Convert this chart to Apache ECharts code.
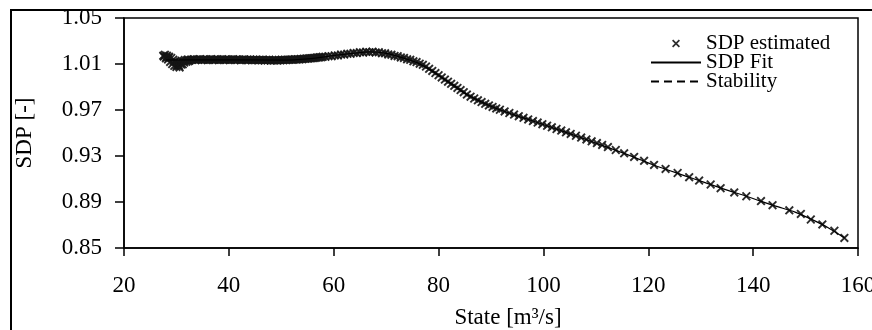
<!DOCTYPE html>
<html>
<head>
<meta charset="utf-8">
<script src="https://cdn.jsdelivr.net/npm/echarts@6/dist/echarts.min.js"></script>
<style>html,body{margin:0;padding:0;background:#fff;}#c{width:872px;height:330px;}</style>
</head>
<body>
<div id="c"></div>
<script>
// SDP estimated (scatter) — state [m3/s]
var estState = [
  27.5,27.6,27.8,28.0,28.1,28.2,28.4,28.5,28.6,28.8,29.0,29.2,29.4,29.5,29.6,29.8,30.0,30.1,30.2,30.4,30.5,30.6,30.8,30.9,31.0,31.2,31.4,31.5,31.6,31.9,32.0,32.2,32.3,32.5,32.8,
  33.0,33.3,33.6,33.9,34.2,34.5,34.8,35.1,35.4,35.7,36.0,36.3,36.6,36.9,37.2,37.5,37.8,38.1,38.4,38.7,39.0,39.3,39.6,39.9,40.2,40.5,40.8,41.1,41.4,41.7,
  42.0,42.3,42.6,42.9,43.2,43.5,43.8,44.1,44.4,44.7,45.0,45.3,45.6,45.9,46.2,46.5,46.8,47.1,47.4,47.7,48.0,48.3,48.6,48.9,49.2,49.5,49.8,
  50.1,50.4,50.7,51.0,51.3,51.6,51.9,52.2,52.5,52.8,53.1,53.4,53.7,54.0,54.3,54.6,54.9,55.2,55.5,55.8,56.1,56.4,56.7,57.0,57.3,57.6,57.9,
  58.4,59.0,59.6,60.2,60.8,61.4,62.0,62.6,63.2,63.8,64.4,65.0,65.6,66.2,66.8,67.4,68.0,68.6,69.2,69.8,70.4,71.0,71.6,72.2,72.8,73.4,74.0,74.6,75.2,75.8,76.4,
  77.0,77.6,78.2,78.8,79.4,80.0,80.6,81.2,81.8,82.4,83.0,83.6,84.2,84.8,85.4,86.1,86.8,87.5,88.2,88.9,89.6,90.3,91.0,91.7,
  92.6,93.5,94.4,95.3,96.2,97.1,98.0,98.9,99.8,100.7,101.6,102.5,103.4,104.3,105.2,106.2,107.2,108.2,109.2,110.2,111.2,112.3,113.8,
  115.4,117.3,119.2,121.1,123.3,125.6,127.8,129.7,131.9,133.8,136.4,138.7,141.5,143.7,146.9,149.1,151.0,153.2,155.5,157.4
];
// SDP estimated (scatter) — SDP [-]
var estSdp = [
  1.0172,1.0165,1.0180,1.0150,1.0160,1.0172,1.0140,1.0155,1.0162,1.0118,1.0152,1.0100,1.0138,1.0120,1.0085,1.0122,1.0075,1.0090,1.0112,1.0092,1.0082,1.0070,1.0108,1.0095,1.0128,1.0098,1.0124,1.0112,1.0134,1.0120,1.0132,1.0140,1.0125,1.0130,1.0138,
  1.0138,1.0141,1.0135,1.0140,1.0136,1.0142,1.0134,1.0139,1.0136,1.0141,1.0134,1.0138,1.0142,1.0135,1.0139,1.0136,1.0141,1.0134,1.0138,1.0141,1.0135,1.0139,1.0136,1.0140,1.0134,1.0138,1.0141,1.0135,1.0139,1.0136,
  1.0140,1.0133,1.0138,1.0140,1.0134,1.0138,1.0135,1.0139,1.0133,1.0137,1.0134,1.0138,1.0132,1.0136,1.0133,1.0137,1.0131,1.0135,1.0132,1.0136,1.0130,1.0134,1.0131,1.0135,1.0130,1.0134,1.0132,
  1.0136,1.0133,1.0137,1.0134,1.0138,1.0136,1.0139,1.0137,1.0141,1.0139,1.0142,1.0140,1.0144,1.0142,1.0146,1.0145,1.0148,1.0147,1.0150,1.0150,1.0153,1.0153,1.0156,1.0156,1.0159,1.0159,1.0162,
  1.0163,1.0168,1.0168,1.0175,1.0175,1.0182,1.0182,1.0189,1.0189,1.0196,1.0195,1.0202,1.0200,1.0206,1.0203,1.0207,1.0201,1.0202,1.0194,1.0193,1.0183,1.0181,1.0170,1.0168,1.0157,1.0153,1.0141,1.0136,1.0123,1.0117,1.0103,
  1.0093,1.0078,1.0058,1.0040,1.0021,1.0002,0.9983,0.9965,0.9946,0.9928,0.9910,0.9892,0.9873,0.9855,0.9834,0.9816,0.9800,0.9784,0.9769,0.9754,0.9740,0.9727,0.9714,0.9702,
  0.9688,0.9674,0.9660,0.9646,0.9632,0.9618,0.9604,0.9591,0.9577,0.9563,0.9549,0.9535,0.9521,0.9506,0.9492,0.9476,0.9460,0.9444,0.9428,0.9412,0.9396,0.9378,0.9352,
  0.9323,0.9292,0.9258,0.9222,0.9188,0.9152,0.9116,0.9086,0.9052,0.9020,0.8983,0.8950,0.8908,0.8872,0.8828,0.8796,0.8748,0.8705,0.8650,0.8588
];
// SDP Fit (line)
var fitState = [28,40,50,55,60,64,67,70,73,76,79,82,85.5,89,92,98,105,111,117,121,128,134,139,144,148,151,154,157.5];
var fitSdp = [1.0135,1.0136,1.0134,1.0145,1.0172,1.0195,1.0205,1.0192,1.0155,1.0110,1.0033,0.9940,0.9832,0.9752,0.9697,0.9604,0.9495,0.9396,0.9295,0.9222,0.9113,0.9018,0.8946,0.8868,0.8812,0.8752,0.8685,0.8585];
// Stability (legend only, no visible points in range)
var stabState = [];
var stabSdp = [];
// Axes
var xTicks = {min: 20, max: 160, step: 20};
var yTicks = {min: 0.85, max: 1.05, step: 0.04};
var seriesNames = ['SDP estimated', 'SDP Fit', 'Stability'];

function zip(a, b) { var r = []; for (var i = 0; i < a.length; i++) r.push([a[i], b[i]]); return r; }

var FONT = 'Liberation Serif';
var crossPath = 'path://M0,1.5L1.5,0L5,3.5L8.5,0L10,1.5L6.5,5L10,8.5L8.5,10L5,6.5L1.5,10L0,8.5L3.5,5Z';

var chart = echarts.init(document.getElementById('c'), null, {renderer: 'canvas'});
chart.setOption({
  animation: false,
  backgroundColor: '#fff',
  grid: {left: 124, right: 14, top: 18, bottom: 82, containLabel: false, outerBoundsMode: 'none',
         show: true, borderColor: '#000', borderWidth: 1.5, backgroundColor: 'transparent'},
  legend: {
    orient: 'vertical', left: 645, top: 28, itemWidth: 50, itemHeight: 8, itemGap: -2,
    textStyle: {fontFamily: FONT, fontSize: 21, color: '#000'},
    data: seriesNames
  },
  xAxis: {
    type: 'value', min: xTicks.min, max: xTicks.max, interval: xTicks.step,
    name: 'State [m³/s]', nameLocation: 'middle', nameGap: 58,
    nameTextStyle: {fontFamily: FONT, fontSize: 23, color: '#000', padding: [0, 0, 0, 34]},
    axisLine: {lineStyle: {color: '#000', width: 1.5}},
    axisTick: {show: true, inside: false, length: 8, lineStyle: {color: '#000', width: 1.5}},
    axisLabel: {fontFamily: FONT, fontSize: 23, color: '#000', margin: 26, showMaxLabel: true},
    splitLine: {show: false}
  },
  yAxis: {
    type: 'value', min: yTicks.min, max: yTicks.max, interval: yTicks.step,
    name: 'SDP [-]', nameLocation: 'middle', nameGap: 88,
    nameTextStyle: {fontFamily: FONT, fontSize: 23, color: '#000'},
    axisLine: {show: true, lineStyle: {color: '#000', width: 1.5}},
    axisTick: {show: true, inside: false, length: 9, lineStyle: {color: '#000', width: 1.5}},
    axisLabel: {fontFamily: FONT, fontSize: 23, color: '#000', margin: 22, formatter: function (v) { return v.toFixed(2); }},
    splitLine: {show: false}
  },
  graphic: [{
    type: 'rect', silent: true, z: 100,
    shape: {x: 11, y: 10, width: 870, height: 330},
    style: {fill: 'none', stroke: '#000', lineWidth: 2}
  }],
  series: [
    {
      name: seriesNames[0], type: 'scatter', data: zip(estState, estSdp),
      symbol: crossPath, symbolSize: 9,
      itemStyle: {color: '#151515', opacity: 0.9}, z: 3
    },
    {
      name: seriesNames[1], type: 'line', data: zip(fitState, fitSdp), smooth: 0.3,
      symbol: 'none', showSymbol: false,
      lineStyle: {color: '#000', width: 1.2, type: 'solid'},
      itemStyle: {color: 'rgba(0,0,0,0)', borderWidth: 0}, z: 4
    },
    {
      name: seriesNames[2], type: 'line', data: zip(stabState, stabSdp),
      symbol: 'none', showSymbol: false,
      lineStyle: {color: '#000', width: 1.6, type: [8, 5]},
      itemStyle: {color: 'rgba(0,0,0,0)', borderWidth: 0}, z: 4
    }
  ]
});
</script>
</body>
</html>
